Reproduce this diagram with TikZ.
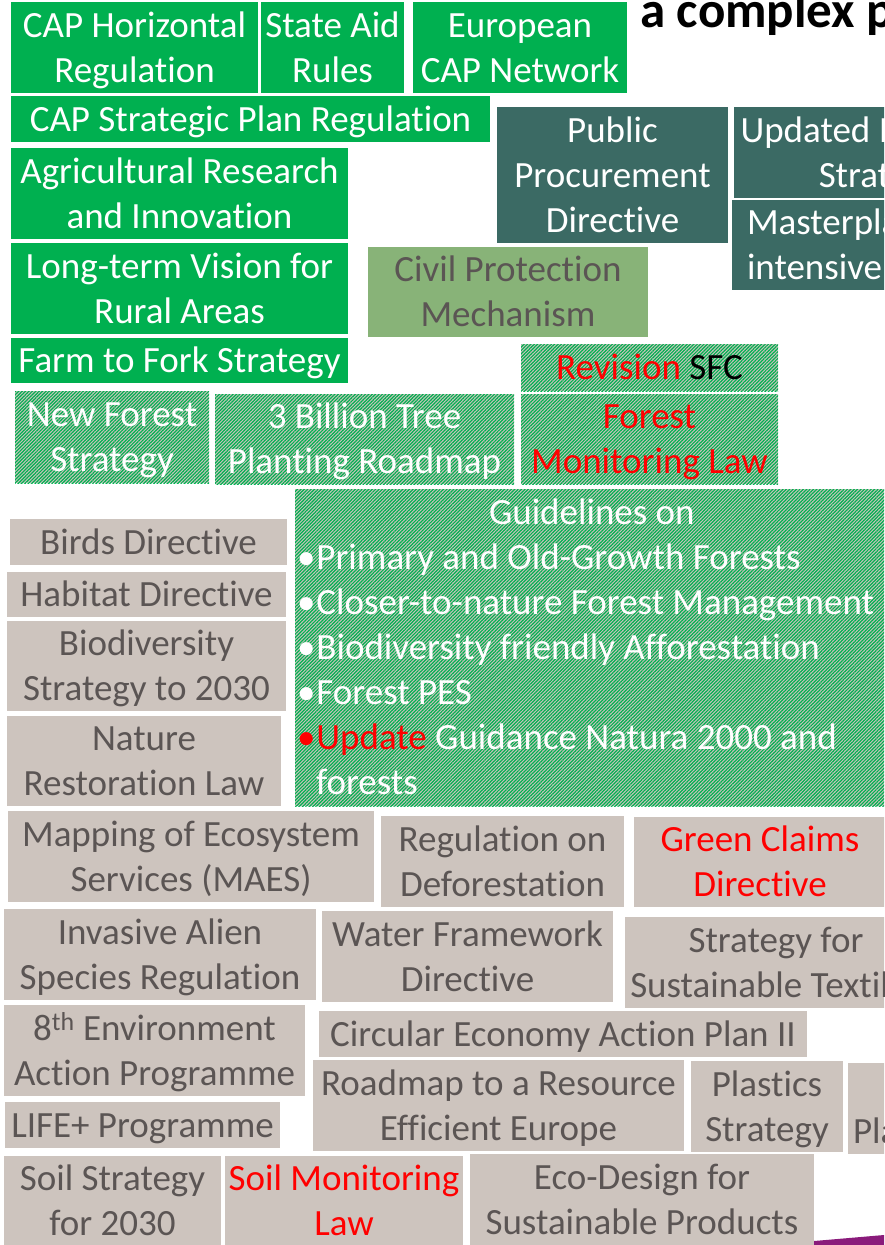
\documentclass[tikz,border=0pt]{standalone}
\usepackage{fontspec}
\setmainfont{Carlito}[Ligatures=NoCommon]
\usetikzlibrary{patterns.meta}
\definecolor{cgreen}{HTML}{00B050}
\definecolor{cteal}{HTML}{3B6A64}
\definecolor{clight}{HTML}{88B378}
\definecolor{cbeige}{HTML}{CDC4BE}
\definecolor{ctext}{HTML}{5B5554}
\definecolor{cred}{HTML}{FF0000}
\definecolor{cpurple}{HTML}{8A1B7B}
\newcommand\fs{\fontsize{37}{45}\selectfont}
\newcommand\ms{\rule[-10.5pt]{0pt}{45pt}}
\newcommand\bx[7]{\node[box,#6,minimum width={(#4-#2)*1pt},minimum height={(#5-#3)*1pt}] (#1) at (#2,#3) {#7};}
\tikzset{
 box/.style={rectangle, inner sep=0pt, outer sep=0pt, anchor=north west, align=center, font=\fs},
 gbox/.style={fill=cgreen, text=white},
 tbox/.style={fill=cteal, text=white},
 lbox/.style={fill=clight, text=ctext},
 bbox/.style={fill=cbeige, text=ctext},
 hbox/.style={preaction={fill=cbeige}, pattern={Lines[angle=45,distance=2.4pt,line width=1.2pt]}, pattern color=cgreen, text=white},
}
\begin{document}
\begin{tikzpicture}[x=1pt,y=-1pt]
\useasboundingbox (0,0) rectangle (884,1245);
\clip (0,0) rectangle (884,1245);
\node[anchor=base west, inner sep=0pt, font=\fontsize{51}{60}\selectfont\bfseries] (title) at (640,27) {a complex policy framework};
% green
\bx{caph}{11}{2}{258}{93}{gbox}{\ms CAP Horizontal\\\ms Regulation}
\bx{said}{261}{2}{404}{93}{gbox}{\ms State Aid\\\ms Rules}
\bx{ecap}{413}{2}{627}{93}{gbox}{\ms European\\\ms CAP Network}
\bx{capsp}{11}{96}{490}{142}{gbox}{\ms CAP Strategic Plan Regulation}
\bx{agri}{11}{148}{348}{239}{gbox}{\ms Agricultural Research\\\ms and Innovation}
\bx{ltv}{11}{243}{348}{334}{gbox}{\ms Long-term Vision for\\\ms Rural Areas}
\bx{f2f}{11}{338}{348}{383}{gbox}{\ms Farm to Fork Strategy}
% teal
\bx{ppd}{497}{107}{728}{243}{tbox}{\ms Public\\\ms Procurement\\\ms Directive}
\bx{uis}{734}{107}{1027}{198}{tbox}{\ms Updated Industrial\\\ms Strategy}
\node[box,tbox,minimum height=89pt,align=left,inner xsep=15pt] (mp) at (732,200) {\ms Masterplan for energy-\\\ms intensive industries};
\bx{cpm}{368}{247}{648}{335}{lbox}{\ms Civil Protection\\\ms Mechanism}
% hatched
\bx{sfc}{521}{344}{778}{391}{hbox}{\ms{\color{cred}Revision} {\color{black}SFC}}
\bx{fml}{521}{394}{778}{484}{hbox,text=cred}{\ms Forest\\\ms Monitoring Law}
\bx{nfs}{15}{391}{209}{483}{hbox}{\ms New Forest\\\ms Strategy}
\bx{btr}{215}{394}{514}{484}{hbox}{\ms 3 Billion Tree\\\ms Planting Roadmap}
\node[box,hbox,minimum height=317pt,align=left,inner xsep=2pt] (guide) at (295,489)
 {\ms\makebox[620pt][l]{\hspace*{192pt}Guidelines on}\\
  \ms •\hspace{1pt}Primary and Old-Growth Forests\\
  \ms •\hspace{1pt}Closer-to-nature Forest Management\\
  \ms •\hspace{1pt}Biodiversity friendly Afforestation\\
  \ms •\hspace{1pt}Forest PES\\
  \ms {\color{cred}•\hspace{1pt}Update} Guidance Natura 2000 and\\
  \ms\hspace*{19pt}forests};
% beige
\bx{birds}{10}{519}{287}{565}{bbox}{\ms Birds Directive}
\bx{habitat}{7}{572}{286}{617}{bbox}{\ms Habitat Directive}
\bx{bds}{7}{621}{286}{711}{bbox}{\ms Biodiversity\\\ms Strategy to 2030}
\bx{nrl}{7}{716}{281}{806}{bbox}{\ms Nature\\\ms Restoration Law}
\bx{maes}{8}{811}{374}{902}{bbox}{\ms Mapping of Ecosystem\\\ms Services (MAES)}
\bx{defo}{381}{816}{624}{907}{bbox}{\ms Regulation on\\\ms Deforestation}
\bx{gcd}{634}{817}{886}{907}{bbox,text=cred}{\ms Green Claims\\\ms Directive}
\bx{ias}{4}{909}{316}{1000}{bbox}{\ms Invasive Alien\\\ms Species Regulation}
\bx{wfd}{322}{911}{613}{1002}{bbox}{\ms Water Framework\\\ms Directive}
\bx{sst}{625}{917}{927}{1008}{bbox}{\ms Strategy for\\\ms Sustainable Textiles}
\bx{eap}{4}{1005}{305}{1096}{bbox}{\ms 8\textsuperscript{th} Environment\\\ms Action Programme}
\bx{ceap}{319}{1011}{807}{1057}{bbox}{\ms Circular Economy Action Plan II}
\bx{rree}{313}{1060}{684}{1151}{bbox}{\ms Roadmap to a Resource\\\ms Efficient Europe}
\bx{plast}{691}{1061}{843}{1152}{bbox}{\ms Plastics\\\ms Strategy}
\node[box,bbox,minimum height=91pt,minimum width=120pt,align=left,inner xsep=3pt] (plan) at (848,1063) {\ms\makebox[110pt]{}\\\ms Plan};
\bx{life}{5}{1102}{280}{1148}{bbox}{\ms LIFE+ Programme}
\bx{soils}{4}{1156}{221}{1245}{bbox}{\ms Soil Strategy\\\ms for 2030}
\bx{soilm}{225}{1156}{463}{1245}{bbox,text=cred}{\ms Soil Monitoring\\\ms Law}
\bx{eco}{470}{1154}{814}{1245}{bbox}{\ms Eco-Design for\\\ms Sustainable Products}
\fill[cpurple] (814,1245) -- (814,1241) -- (884,1235) -- (884,1245) -- cycle;
\end{tikzpicture}
\end{document}
